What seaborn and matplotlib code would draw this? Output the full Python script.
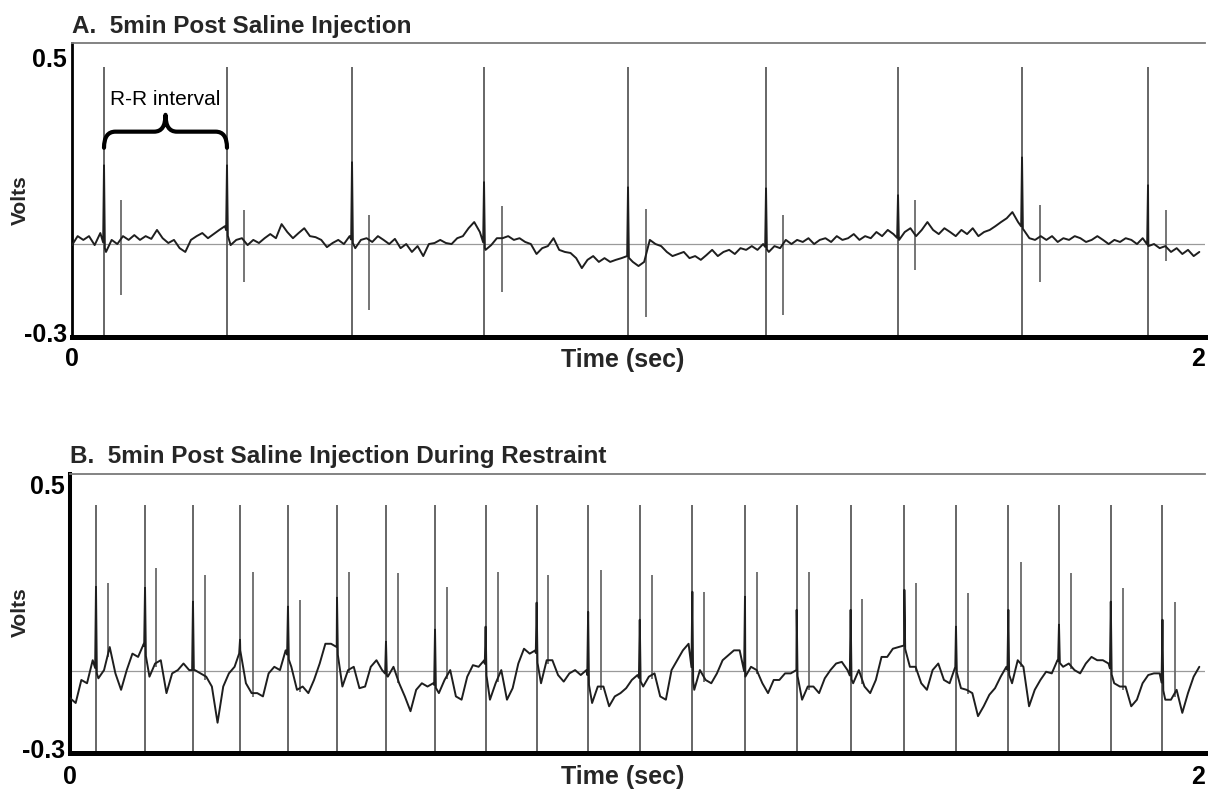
import numpy as np
import pandas as pd
import matplotlib
matplotlib.use("Agg")
import matplotlib.pyplot as plt
import seaborn as sns
from matplotlib.path import Path
from matplotlib.patches import PathPatch

# ---------------- data ----------------
sample_interval = 0.01  # s

titles = ["A.  5min Post Saline Injection", "B.  5min Post Saline Injection During Restraint"]
x_tick_values = [0, 2]
x_tick_labels = ["0", "2"]
y_tick_values = [0.5, -0.3]
y_tick_labels = ["0.5", "-0.3"]
x_label = "Time (sec)"
y_label = "Volts"
annotation_text = "R-R interval"

# Panel A -------------------------------------------------------
baseline_A = -0.044  # V, level of the thin reference line
trace_A_mv = [
    -3, 23, 12, 23, -3, 32, -23, 12, 0, 23,
    12, 26, 12, 23, 15, 41, 17, 3, 12, -12,
    -23, 12, 23, 32, 17, 29, 41, 52, -3, 12,
    17, -3, 12, 3, 17, 29, 17, 58, 35, 17,
    32, 46, 23, 20, 12, -9, 3, 12, 0, 23,
    -12, 12, 17, 6, 23, 12, 0, 15, -12, 0,
    -23, -6, -35, 0, 3, 12, 3, 0, 17, 23,
    46, 64, 35, -17, -3, 17, 17, 23, 12, 17,
    6, 0, -29, -12, -6, 17, -17, -23, -26, -41,
    -70, -46, -35, -52, -41, -52, -46, -41, -35, -52,
    -64, -52, 12, 0, -6, -23, -35, -29, -23, -41,
    -35, -46, -32, -17, -35, -23, -17, -29, -12, -17,
    -6, -17, 0, -23, -6, -12, 12, 0, 12, 6,
    17, 0, 12, 17, 6, 23, 12, 17, 29, 12,
    23, 17, 35, 23, 41, 29, 12, 35, 46, 23,
    41, 64, 41, 29, 46, 35, 23, 41, 29, 46,
    23, 35, 41, 52, 64, 75, 93, 64, 41, 17,
    12, 23, 12, 23, 6, 17, 12, 23, 17, 6,
    12, 23, 12, 0, 12, 6, 17, 12, 0, 17,
    -6, 0, -12, -6, -23, -12, -29, -17, -35, -23]
r_times_A = [0.0565, 0.2736, 0.4943, 0.7273, 0.9815, 1.2251, 1.4581, 1.6770, 1.8994]
r_peak_A_mv = [229, 229, 238, 180, 165, 162, 142, 252, 171]
sec_times_A = [0.0865, 0.3036, 0.5243, 0.7590, 1.0132, 1.2551, 1.4881, 1.7087, 1.9312]
sec_up_A_mv = [128, 99, 84, 110, 102, 84, 128, 113, 99]
sec_down_A_mv = [-148, -110, -191, -139, -212, -206, -75, -110, -50]
marker_top_A = 0.47

# Panel B -------------------------------------------------------
baseline_B = -0.065
trace_B_mv = [
    -83, -98, -28, -38, 32, -23, 2, 72, -8, -58,
    2, 52, 42, 82, -18, 22, 32, -68, -8, 2,
    22, 2, 2, -8, -18, -48, -158, -48, -8, 12,
    62, -38, -68, -68, -78, -8, 12, 2, 62, 12,
    -58, -48, -68, -28, 22, 82, 82, 72, -48, 2,
    12, -53, -48, 12, 32, 2, -18, 12, -38, -78,
    -123, -58, -38, -48, -38, -68, -28, 2, -78, -88,
    -18, 17, 12, 32, -88, -38, 2, -88, -53, 22,
    67, 52, 62, -38, 32, 32, -13, -33, -8, 2,
    -13, 2, -98, -48, -48, -108, -78, -68, -53, -28,
    -13, -48, -18, -8, -78, -88, 2, 32, 62, 82,
    -58, 2, -28, -38, -8, 32, 47, 62, 62, -18,
    12, 2, -38, -68, -28, -28, -8, -8, 2, -88,
    -48, -48, -68, -23, 2, 22, 27, 2, -38, 2,
    -48, -68, -28, 42, 42, 67, 72, 77, 12, 12,
    -38, -58, 2, 22, -28, -38, 12, -53, -58, -68,
    -138, -108, -73, -53, -18, 12, -38, 32, 12, -108,
    -58, -28, -3, -8, 32, 12, 22, 2, -8, 22,
    42, 32, 32, 22, -38, -48, -48, -108, -88, -38,
    -13, -8, -8, -88, -88, -58, -128, -68, -18, 12]
r_times_B = [0.0458, 0.1322, 0.2167, 0.2996, 0.3841, 0.4705, 0.5568, 0.6432,
             0.7324, 0.8223, 0.9130, 1.0040, 1.0966, 1.1894, 1.2805, 1.3756,
             1.4702, 1.5612, 1.6534, 1.7427, 1.8340, 1.9250]
r_peak_B_mv = [255, 252, 210, 94, 195, 222, 88, 125, 134, 207, 179, 155,
               240, 225, 185, 185, 246, 134, 185, 140, 210, 155]
sec_times_B = [0.0675, 0.1515, 0.2380, 0.3220, 0.4050, 0.4920, 0.5774, 0.6650,
               0.7540, 0.8430, 0.9350, 1.0250, 1.1180, 1.2100, 1.3020, 1.3960,
               1.4910, 1.5818, 1.6750, 1.7630, 1.8560, 1.9470]
sec_up_B_mv = [268, 313, 292, 301, 216, 301, 298, 255, 301, 292, 307, 292,
               240, 301, 301, 219, 268, 237, 331, 298, 252, 210]
marker_top_B = 0.438

# ---------------- styling ----------------
sns.set_theme(style="white")
plt.rcParams["font.family"] = ["Liberation Sans", "DejaVu Sans"]

TRACE_C = "#1e1e1e"
SPIKE_C = "#5a5a5a"

fig = plt.figure(figsize=(12.11, 7.92), dpi=100)
axA = fig.add_axes([72 / 1211, (792 - 337) / 792, 1133 / 1211, 294 / 792])
axB = fig.add_axes([70 / 1211, (792 - 753) / 792, 1135 / 1211, 279 / 792])


def build_trace(base, trace_mv, ev_t, ev_mv, half_w=0.0015):
    t = np.arange(len(trace_mv)) * sample_interval
    v = base + np.asarray(trace_mv, float) / 1000.0
    tt, vv = list(t), list(v)
    for te, pk in zip(ev_t, ev_mv):
        tt += [te - half_w, te, te + half_w]
        vv += [np.interp(te - half_w, t, v), base + pk / 1000.0,
               np.interp(te + half_w, t, v)]
    order = np.argsort(tt, kind="stable")
    return pd.DataFrame({"t": np.asarray(tt)[order], "v": np.asarray(vv)[order]}), t, v


def style_axis(ax, ylim, title, spine_left_w, title_pad, xlabel_xy, ylabel_xy, xpad):
    ax.set_xlim(0, 2)
    ax.set_ylim(*ylim)
    ax.set_xticks(x_tick_values)
    ax.set_xticklabels(x_tick_labels, fontweight="bold")
    ax.get_xticklabels()[-1].set_horizontalalignment("right")
    ax.set_yticks(y_tick_values)
    ax.set_yticklabels(y_tick_labels, fontweight="bold")
    ax.tick_params(axis="x", length=0, labelsize=18, pad=xpad, colors="black")
    ax.tick_params(axis="y", length=0, labelsize=18, pad=3.5, colors="black")
    ax.spines["right"].set_visible(False)
    ax.spines["top"].set_color("#7a7a7a")
    ax.spines["top"].set_linewidth(1.3)
    ax.spines["left"].set_color("black")
    ax.spines["left"].set_linewidth(spine_left_w)
    ax.spines["bottom"].set_color("black")
    ax.spines["bottom"].set_linewidth(3.6)
    ax.set_title(title, loc="left", fontsize=17.5, fontweight="bold", pad=title_pad)
    ax.set_xlabel(x_label, fontsize=18, fontweight="bold")
    ax.xaxis.set_label_coords(*xlabel_xy)
    ax.xaxis.label.set_verticalalignment("center")
    ax.set_ylabel(y_label, fontsize=15, fontweight="bold")
    ax.yaxis.set_label_coords(*ylabel_xy)
    ax.yaxis.label.set_verticalalignment("center")
    ax.grid(False)


# ---------------- Panel A ----------------
dfA, tA, vA = build_trace(baseline_A, trace_A_mv, r_times_A, r_peak_A_mv)
axA.axhline(baseline_A, color="#9a9a9a", lw=0.9, zorder=1)
axA.vlines(r_times_A, -0.4, marker_top_A, color=SPIKE_C, lw=1.3, zorder=2)
axA.vlines(sec_times_A, baseline_A + np.array(sec_down_A_mv) / 1000.0,
           baseline_A + np.array(sec_up_A_mv) / 1000.0, color="#6a6a6a", lw=1.3, zorder=2)
sns.lineplot(data=dfA, x="t", y="v", ax=axA, color=TRACE_C, lw=1.4,
             estimator=None, sort=False, zorder=3)
style_axis(axA, (-0.3145, 0.541), titles[0], 2.0, 7, (0.486, -0.078), (-0.046, 0.466), 7)

# R-R interval brace
x0, x1 = r_times_A[0], r_times_A[1]
xm = (x0 + x1) / 2
yb, yh, yt, r = 0.236, 0.283, 0.332, 0.02
verts = [(x0, yb), (x0, yh), (x0 + r, yh), (xm - r, yh), (xm, yh), (xm, yt),
         (xm, yh), (xm + r, yh), (x1 - r, yh), (x1, yh), (x1, yb)]
codes = [Path.MOVETO, Path.CURVE3, Path.CURVE3, Path.LINETO, Path.CURVE3, Path.CURVE3,
         Path.CURVE3, Path.CURVE3, Path.LINETO, Path.CURVE3, Path.CURVE3]
axA.add_patch(PathPatch(Path(verts, codes), fill=False, lw=3.0, color="black",
                        capstyle="round", joinstyle="round", zorder=4))
axA.text(xm, 0.376, annotation_text, ha="center", va="center", fontsize=15, color="black")

# ---------------- Panel B ----------------
dfB, tB, vB = build_trace(baseline_B, trace_B_mv, r_times_B, r_peak_B_mv)
axB.axhline(baseline_B, color="#9a9a9a", lw=0.9, zorder=1)
axB.vlines(r_times_B, -0.4, marker_top_B, color=SPIKE_C, lw=1.3, zorder=2)
sec_low_B = np.interp(sec_times_B, tB, vB) - 0.012
axB.vlines(sec_times_B, sec_low_B, baseline_B + np.array(sec_up_B_mv) / 1000.0,
           color="#6a6a6a", lw=1.3, zorder=2)
sns.lineplot(data=dfB, x="t", y="v", ax=axB, color=TRACE_C, lw=1.4,
             estimator=None, sort=False, zorder=3)
style_axis(axB, (-0.315, 0.533), titles[1], 2.9, 8, (0.487, -0.086), (-0.044, 0.505), 8.5)

fig.savefig("out.png", dpi=100, facecolor="white")
